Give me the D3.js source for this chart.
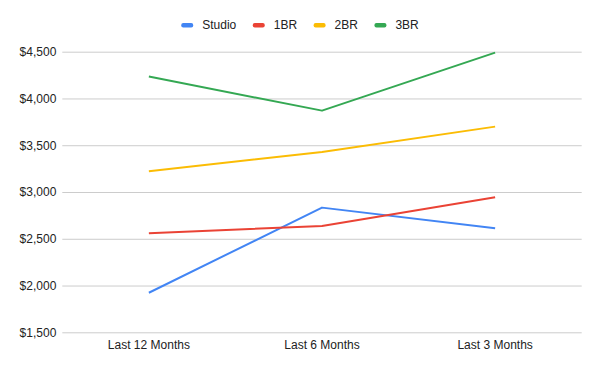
<!DOCTYPE html>
<html>
<head>
<meta charset="utf-8">
<script src="https://cdn.jsdelivr.net/npm/d3@7"></script>
<style>
  body { margin: 0; background: #fff; }
  text { font-family: "Liberation Sans", Arial, sans-serif; }
</style>
</head>
<body>
<div id="chart"></div>
<script>
// Rent by unit type over time

var categories = ["Last 12 Months", "Last 6 Months", "Last 3 Months"];
var seriesNames = ["Studio", "1BR", "2BR", "3BR"];
var studio = [1923, 2833, 2612];
var oneBR = [2559, 2637, 2944];
var twoBR = [3222, 3428, 3699];
var threeBR = [4234, 3870, 4490];
var yTicks = [1500, 2000, 2500, 3000, 3500, 4000, 4500];
var colors = ["#4285f4", "#ea4335", "#fbbc04", "#34a853"];

var svgWidth = 600;
var svgHeight = 371;

var margin = { top: 51.7, right: 18.3, bottom: 38.7, left: 62.3 };
var width = svgWidth - margin.left - margin.right;
var height = svgHeight - margin.top - margin.bottom;

var svg = d3.select("#chart")
  .append("svg")
  .attr("width", svgWidth)
  .attr("height", svgHeight);

var chartGroup = svg.append("g")
  .attr("transform", `translate(${margin.left}, ${margin.top})`);

var series = [studio, oneBR, twoBR, threeBR].map(function (vals, i) {
  return { name: seriesNames[i], color: colors[i], values: vals };
});

// scales
var xScale = d3.scaleBand()
  .domain(categories)
  .range([0, width])
  .padding(0);

var yScale = d3.scaleLinear()
  .domain([1500, 4500])
  .range([height, 0]);

// gridlines + y labels
var leftAxis = d3.axisLeft(yScale)
  .tickValues(yTicks)
  .tickSize(-width)
  .tickPadding(6)
  .tickFormat(d => "$" + d3.format(",")(d));

var yAxisG = chartGroup.append("g").call(leftAxis);
yAxisG.select(".domain").remove();
yAxisG.selectAll("line").attr("stroke", "#cccccc").attr("stroke-width", 1);
yAxisG.selectAll("text")
  .attr("fill", "#222")
  .style("font-size", "12px");

// x labels
var bottomAxis = d3.axisBottom(xScale).tickSize(0).tickPadding(8);
var xAxisG = chartGroup.append("g")
  .attr("transform", `translate(0, ${height})`)
  .call(bottomAxis);
xAxisG.select(".domain").remove();
xAxisG.selectAll("text")
  .attr("fill", "#222")
  .style("font-size", "12px");

// lines
var line = d3.line()
  .x((d, i) => xScale(categories[i]) + xScale.bandwidth() / 2)
  .y(d => yScale(d));

chartGroup.selectAll(".series")
  .data(series)
  .enter()
  .append("path")
  .attr("class", "series")
  .attr("d", d => line(d.values))
  .attr("fill", "none")
  .attr("stroke", d => d.color)
  .attr("stroke-width", 2)
  .attr("stroke-linejoin", "round");

// legend
var legend = svg.append("g").attr("transform", "translate(0, 25)");
var items = legend.selectAll(".item")
  .data(series)
  .enter()
  .append("g")
  .attr("class", "item");

items.append("rect")
  .attr("y", -2)
  .attr("width", 12)
  .attr("height", 4.5)
  .attr("rx", 2)
  .attr("fill", d => d.color);

items.append("text")
  .attr("x", 21)
  .attr("dy", "0.35em")
  .attr("fill", "#222")
  .style("font-size", "12px")
  .text(d => d.name);

var pos = 0;
items.each(function () {
  var g = d3.select(this);
  var w = 21 + g.select("text").node().getComputedTextLength();
  g.attr("transform", `translate(${pos}, 0)`);
  pos += w + 16.5;
});
var totalW = pos - 16.5;
legend.attr("transform", `translate(${(svgWidth - totalW) / 2}, 25)`);
</script>
</body>
</html>
